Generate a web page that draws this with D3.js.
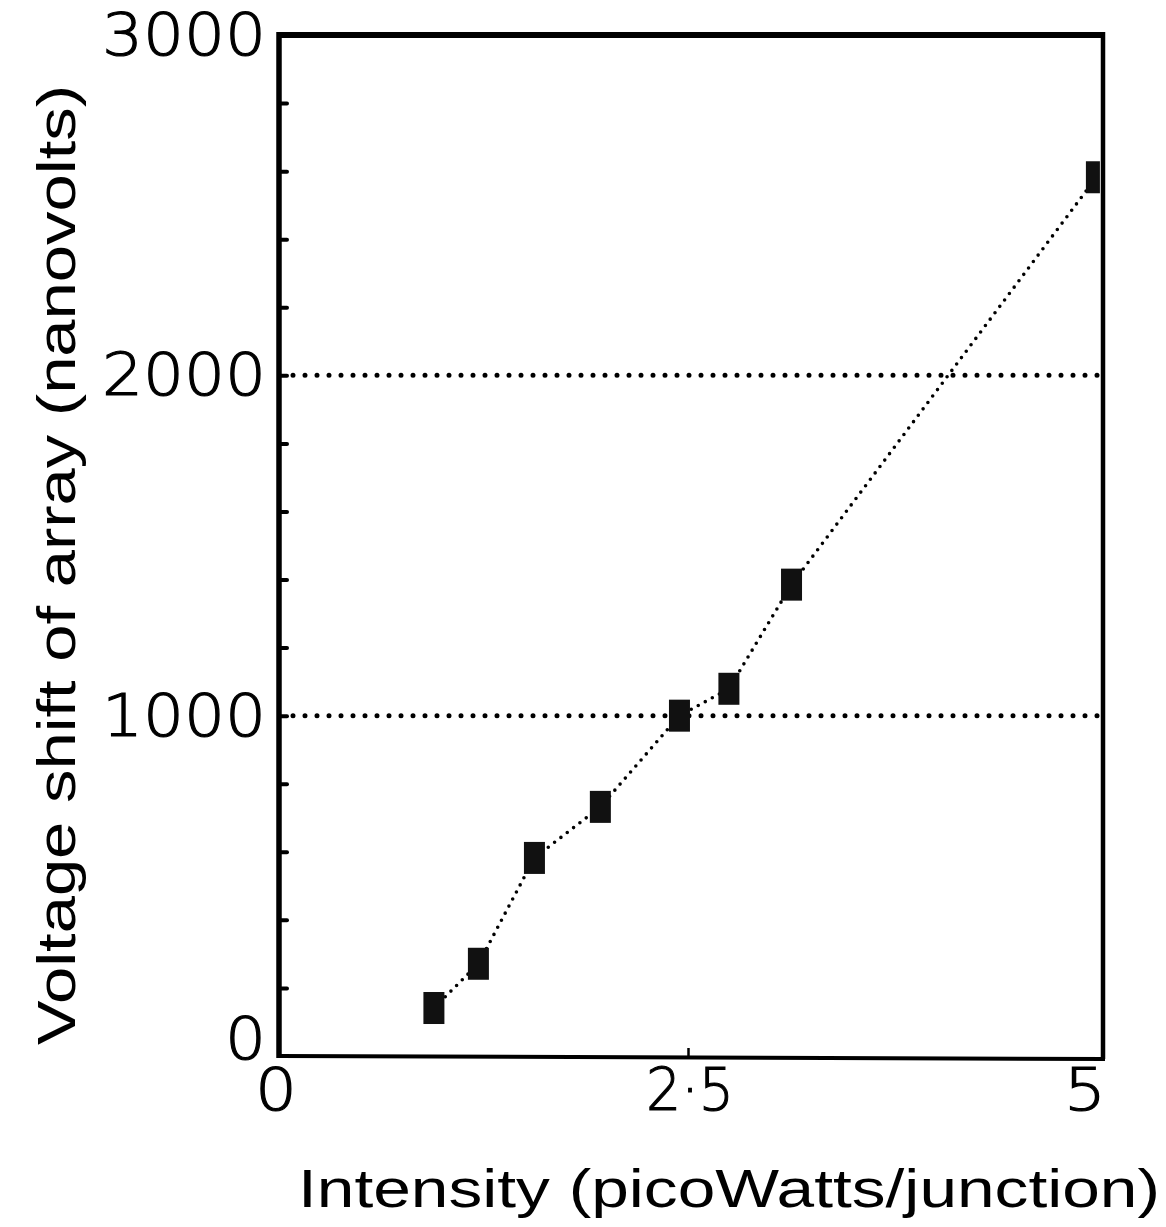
<!DOCTYPE html>
<html>
<head>
<meta charset="utf-8">
<script src="https://cdn.jsdelivr.net/npm/d3@7"></script>
<style>
html,body{margin:0;padding:0;background:#fff;}
svg{display:block;}
text{font-family:"Liberation Sans",Arial,sans-serif;fill:#000;}
text.tl{font-family:"DejaVu Sans","Liberation Sans",sans-serif;font-weight:200;stroke:#000;stroke-width:1.1;}
</style>
</head>
<body>
<svg id="chart" width="1166" height="1227"></svg>
<script>
const intensity = [0.94, 1.21, 1.55, 1.95, 2.43, 2.73, 3.11, 4.96];
const voltage   = [141, 271, 582, 732, 1000, 1079, 1385, 2582];
const yTickValues = [0, 1000, 2000, 3000];
const yTickLabels = ["0", "1000", "2000", "3000"];
const yMinorTicks = [200, 400, 600, 800, 1200, 1400, 1600, 1800, 2200, 2400, 2600, 2800];
const xTickValues = [0, 2.5, 5];
const xTickLabels = ["0", "2·5", "5"];
const gridValues = [1000, 2000];
const xTitle = "Intensity (picoWatts/junction)";
const yTitle = "Voltage shift of array (nanovolts)";

const svg = d3.select("#chart");
const L = 279, R = 1103, T = 35, B = 1056;
const x = d3.scaleLinear().domain([0, 5]).range([L, R]);
const y = d3.scaleLinear().domain([0, 3000]).range([B, T]);

// gridlines
svg.append("g").selectAll("line").data(gridValues).join("line")
  .attr("x1", L + 14).attr("x2", R - 3)
  .attr("y1", d => y(d)).attr("y2", d => y(d))
  .attr("stroke", "#000").attr("stroke-width", 5)
  .attr("stroke-linecap", "round").attr("stroke-dasharray", "0,12");

// data line
const line = d3.line().x(d => x(d[0])).y(d => y(d[1]));
const pts = intensity.map((v, i) => [v, voltage[i]]);
svg.append("path").datum(pts)
  .attr("d", line).attr("fill", "none").attr("stroke", "#000")
  .attr("stroke-width", 3.6).attr("stroke-linecap", "round")
  .attr("stroke-dasharray", "0,8");

// markers
svg.append("g").selectAll("rect").data(pts).join("rect")
  .attr("x", d => x(d[0]) - 10.5).attr("y", d => y(d[1]) - 16)
  .attr("width", d => d[0] > 4.9 ? 14 : 21).attr("height", 32)
  .attr("fill", "#111");

// frame
const frame = svg.append("g").attr("stroke", "#000").attr("fill", "none");
frame.append("line").attr("x1", L).attr("x2", L).attr("y1", T - 3).attr("y2", B + 2).attr("stroke-width", 5.5);
frame.append("line").attr("x1", L - 2).attr("x2", R + 2).attr("y1", T).attr("y2", T).attr("stroke-width", 6);
frame.append("line").attr("x1", R).attr("x2", R).attr("y1", T - 3).attr("y2", B + 3).attr("stroke-width", 4.5);
frame.append("line").attr("x1", L).attr("x2", R + 2).attr("y1", B).attr("y2", B + 3).attr("stroke-width", 4);

// y axis ticks (inward) and labels
const yAxis = d3.axisRight(y).tickValues(yMinorTicks.concat(gridValues)).tickSize(8).tickFormat("");
const gy = svg.append("g").attr("transform", `translate(${L},0)`).call(yAxis);
gy.select(".domain").remove();
gy.selectAll(".tick line").attr("stroke-width", 4).attr("stroke-linecap", "round");

svg.append("g").selectAll("text").data(yTickValues).join("text")
  .attr("class", "tl")
  .attr("x", 266).attr("y", d => d === 0 ? y(d) - 17 : y(d))
  .attr("text-anchor", "end").attr("dominant-baseline", "central")
  .attr("font-size", 58).attr("textLength", (d, i) => yTickLabels[i].length * 41)
  .attr("lengthAdjust", "spacingAndGlyphs")
  .text((d, i) => yTickLabels[i]);

// x axis tick and labels
const xAxis = d3.axisTop(x).tickValues([2.5]).tickSize(8).tickFormat("");
const gx = svg.append("g").attr("transform", `translate(0,${B})`).call(xAxis);
gx.select(".domain").remove();
gx.selectAll(".tick line").attr("stroke-width", 2.5).attr("transform", "translate(-3,0)");

const xLabelWidths = [42, 88, 42];
svg.append("g").selectAll("text").data(xTickValues).join("text")
  .attr("class", "tl")
  .attr("x", d => d === 0 ? x(d) - 3 : d === 5 ? x(d) - 18 : x(d) - 1)
  .attr("y", 1110)
  .attr("text-anchor", "middle")
  .attr("font-size", 58)
  .attr("textLength", (d, i) => xLabelWidths[i])
  .attr("lengthAdjust", "spacingAndGlyphs")
  .text((d, i) => xTickLabels[i]);

// titles
svg.append("text")
  .attr("x", 298).attr("y", 1207)
  .attr("font-size", 54).attr("textLength", 862).attr("lengthAdjust", "spacingAndGlyphs")
  .text(xTitle);

svg.append("text")
  .attr("transform", "translate(75,1045) rotate(-90)")
  .attr("font-size", 54).attr("textLength", 960).attr("lengthAdjust", "spacingAndGlyphs")
  .text(yTitle);
</script>
</body>
</html>
